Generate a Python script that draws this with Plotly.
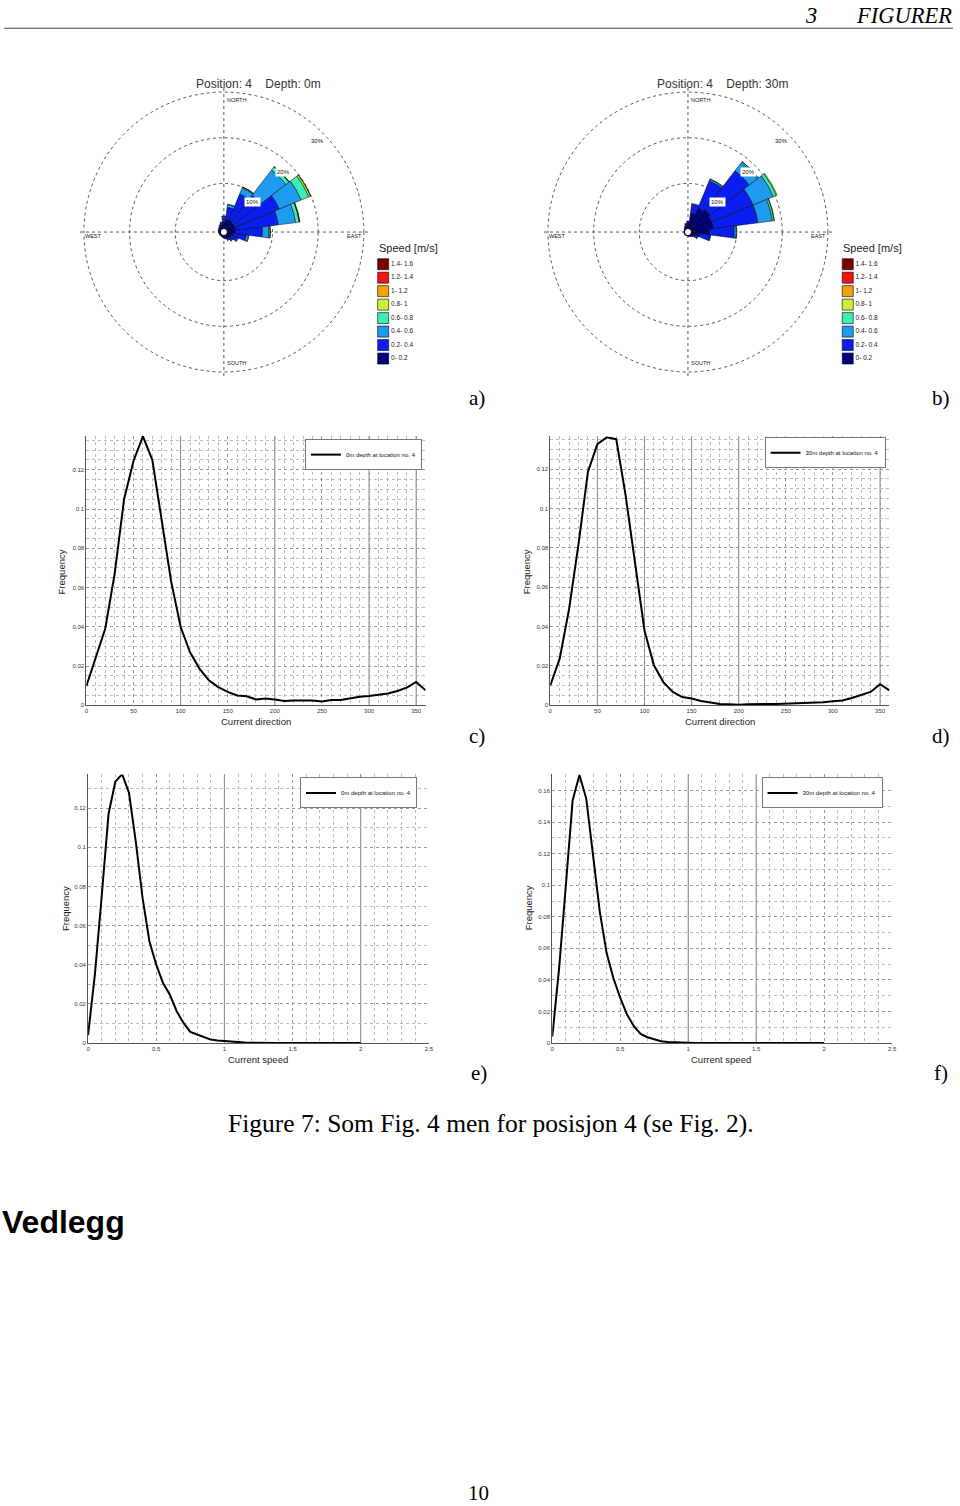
import plotly.graph_objects as go

W, H = 960, 1506
SANS = "Liberation Sans, Arial, sans-serif"
SERIF = "Liberation Serif, Times New Roman, serif"


def fx(px):
    return px / W


def fy(py):
    return 1 - py / H


# ---------------- data ----------------
rose_directions = [0, 15, 30, 45, 60, 75, 90, 105, 120, 135, 150, 165,
                   180, 195, 210, 225, 240, 255, 270, 285, 300, 315, 330, 345]
speed_labels = ["0- 0.2", "0.2- 0.4", "0.4- 0.6", "0.6- 0.8",
                "0.8- 1", "1- 1.2", "1.2- 1.4", "1.4- 1.6"]
speed_colors = ["#00007f", "#0a1ef0", "#1e9bef", "#3cefb4",
                "#c8f03c", "#f5a00f", "#f01414", "#7f0000"]

# Rose a) Position 4, depth 0 m  (percent per direction sector, per speed class)
rose_a_s00_02 = [1.5, 2.0, 2.2, 2.0, 2.0, 2.0, 1.8, 1.5, 1.2, 1.0, 0.8, 0.6,
                 0.5, 0.4, 0.35, 0.35, 0.35, 0.35, 0.4, 0.45, 0.5, 0.6, 0.8, 1.0]
rose_a_s02_04 = [1.0, 2.8, 6.2, 7.5, 10.5, 9.4, 6.0, 2.8, 1.4, 0.8, 0.5, 0.3,
                 0.2, 0.15, 0.1, 0.1, 0.1, 0.1, 0.1, 0.15, 0.2, 0.25, 0.3, 0.5]
rose_a_s04_06 = [0.3, 0.6, 1.4, 7.0, 5.2, 3.8, 1.4, 0.5, 0.2, 0.1, 0.05, 0,
                 0, 0, 0, 0, 0, 0, 0, 0, 0, 0, 0.05, 0.1]
rose_a_s06_08 = [0.05, 0.1, 0.2, 0.8, 1.8, 0.8, 0.3, 0.1, 0, 0, 0, 0,
                 0, 0, 0, 0, 0, 0, 0, 0, 0, 0, 0, 0]
rose_a_s08_10 = [0, 0, 0.02, 0.1, 0.4, 0.1, 0.02, 0, 0, 0, 0, 0,
                 0, 0, 0, 0, 0, 0, 0, 0, 0, 0, 0, 0]
rose_a_s10_12 = [0, 0, 0, 0.02, 0.05, 0.02, 0, 0, 0, 0, 0, 0,
                 0, 0, 0, 0, 0, 0, 0, 0, 0, 0, 0, 0]
rose_a_s12_14 = [0] * 24
rose_a_s14_16 = [0] * 24

# Rose b) Position 4, depth 30 m
rose_b_s00_02 = [1.0, 3.5, 5.0, 5.5, 5.0, 5.0, 4.0, 2.0, 1.0, 0.5, 0.3, 0.2,
                 0.15, 0.15, 0.15, 0.15, 0.15, 0.15, 0.15, 0.15, 0.15, 0.3, 0.5, 0.8]
rose_b_s02_04 = [0.6, 2.0, 6.5, 10.8, 9.8, 9.8, 5.5, 2.3, 0.8, 0.3, 0.2, 0.1,
                 0.08, 0.08, 0.08, 0.08, 0.08, 0.08, 0.08, 0.08, 0.08, 0.15, 0.3, 0.5]
rose_b_s04_06 = [0.05, 0.15, 0.4, 2.2, 4.8, 3.2, 0.45, 0.1, 0, 0, 0, 0,
                 0, 0, 0, 0, 0, 0, 0, 0, 0, 0, 0, 0]
rose_b_s06_08 = [0, 0, 0.05, 0.3, 0.7, 0.4, 0.1, 0, 0, 0, 0, 0,
                 0, 0, 0, 0, 0, 0, 0, 0, 0, 0, 0, 0]
rose_b_s08_10 = [0, 0, 0, 0.05, 0.2, 0.05, 0, 0, 0, 0, 0, 0,
                 0, 0, 0, 0, 0, 0, 0, 0, 0, 0, 0, 0]
rose_b_s10_12 = [0] * 24
rose_b_s12_14 = [0] * 24
rose_b_s14_16 = [0] * 24

# Direction distributions (c, d)
dir_x = [0, 10, 20, 30, 40, 50, 60, 70, 80, 90, 100, 110, 120, 130, 140, 150,
         160, 170, 180, 190, 200, 210, 220, 230, 240, 250, 260, 270, 280, 290,
         300, 310, 320, 330, 340, 350, 360]
freq_dir_0m = [0.0098, 0.024, 0.039, 0.067, 0.105, 0.1245, 0.137, 0.125, 0.095,
               0.063, 0.040, 0.027, 0.0187, 0.0127, 0.0093, 0.0068, 0.005, 0.0046,
               0.003, 0.0034, 0.0029, 0.0022, 0.0024, 0.0025, 0.0025, 0.002,
               0.0027, 0.0027, 0.0034, 0.0044, 0.0047, 0.0053, 0.006, 0.0073,
               0.009, 0.0119, 0.0076]
freq_dir_30m = [0.0101, 0.0237, 0.049, 0.082, 0.1187, 0.1327, 0.1362, 0.1352,
                0.1065, 0.071, 0.038, 0.0203, 0.0118, 0.0068, 0.0042, 0.0034,
                0.0022, 0.0014, 0.0007, 0.0005, 0.0003, 0.0005, 0.0007, 0.0007,
                0.0007, 0.0008, 0.001, 0.001, 0.0012, 0.0015, 0.002, 0.0024,
                0.0037, 0.0051, 0.0068, 0.0107, 0.0076]

# Speed distributions (e, f)
speed_x = [0, 0.05, 0.1, 0.15, 0.2, 0.25, 0.3, 0.35, 0.4, 0.45, 0.5, 0.55, 0.6,
           0.65, 0.7, 0.75, 0.8, 0.85, 0.9, 0.95, 1.0, 1.05, 1.1, 1.15, 1.2,
           1.25, 1.3, 1.35, 1.4, 1.45, 1.5, 1.55, 1.6, 1.65, 1.7, 1.75, 1.8,
           1.85, 1.9, 1.95, 2.0]
freq_speed_0m = [0.004, 0.035, 0.075, 0.117, 0.1336, 0.1374, 0.128, 0.103, 0.074,
                 0.052, 0.040, 0.0306, 0.0247, 0.0162, 0.0102, 0.0056, 0.0043,
                 0.0029, 0.0017, 0.0012, 0.0009, 0.0005, 0.0003, 0.0002, 0.0001,
                 0, 0, 0, 0, 0, 0, 0, 0, 0, 0, 0, 0, 0, 0, 0, 0]
freq_speed_30m = [0.004, 0.047, 0.100, 0.154, 0.170, 0.155, 0.119, 0.083, 0.057,
                  0.041, 0.0285, 0.018, 0.0106, 0.0057, 0.0036, 0.0021, 0.0011,
                  0.0006, 0.0003, 0.0002, 0.0001, 0, 0, 0, 0, 0, 0, 0, 0, 0, 0,
                  0, 0, 0, 0, 0, 0, 0, 0, 0, 0]

# solid (rendering-artefact) grid lines seen in the scanned panels
solid_grid_c = [100, 200, 300, 350]
solid_grid_d = [50, 100, 150, 200, 350]
solid_grid_e = [1, 2]
solid_grid_f = [1, 1.5]

# ---------------- figure ----------------
fig = go.Figure()

rose_a = [rose_a_s00_02, rose_a_s02_04, rose_a_s04_06, rose_a_s06_08,
          rose_a_s08_10, rose_a_s10_12, rose_a_s12_14, rose_a_s14_16]
rose_b = [rose_b_s00_02, rose_b_s02_04, rose_b_s04_06, rose_b_s06_08,
          rose_b_s08_10, rose_b_s10_12, rose_b_s12_14, rose_b_s14_16]

for pid, bins in (("polar", rose_a), ("polar2", rose_b)):
    for lab, col, rv in zip(speed_labels, speed_colors, bins):
        fig.add_trace(go.Barpolar(
            r=rv, theta=rose_directions, width=[15] * len(rose_directions),
            name=lab, subplot=pid, showlegend=False,
            marker=dict(color=col, line=dict(color="black", width=0.5)),
        ))

# speed legends (as small scatter keys)
for xa, ya in (("x5", "y5"), ("x6", "y6")):
    fig.add_trace(go.Scatter(
        x=[0] * len(speed_labels), y=list(range(len(speed_labels))),
        mode="markers+text", text=speed_labels, textposition="middle right",
        textfont=dict(size=6.5, family=SANS, color="#222"),
        marker=dict(symbol="square", size=11, color=speed_colors,
                    line=dict(color="black", width=0.6)),
        xaxis=xa, yaxis=ya, showlegend=False, hoverinfo="skip", cliponaxis=False,
    ))

line_specs = [
    ("x", "y", "legend", dir_x, freq_dir_0m, "0m depth at location no. 4"),
    ("x2", "y2", "legend2", dir_x, freq_dir_30m, "30m depth at location no. 4"),
    ("x3", "y3", "legend3", speed_x, freq_speed_0m, "0m depth at location no. 4"),
    ("x4", "y4", "legend4", speed_x, freq_speed_30m, "30m depth at location no. 4"),
]
for xa, ya, lg, xs, ys, nm in line_specs:
    fig.add_trace(go.Scatter(x=xs, y=ys, mode="lines", name=nm,
                             line=dict(color="black", width=2),
                             xaxis=xa, yaxis=ya, legend=lg))

R_POLAR = 145.6
HOLE = 0.0206


def polar_layout(cx, cy):
    R = R_POLAR
    return dict(
        domain=dict(x=[fx(cx - R), fx(cx + R)], y=[fy(cy + R), fy(cy - R)]),
        hole=HOLE, bgcolor="white", barmode="stack",
        radialaxis=dict(range=[0, 31], tickvals=[10, 20, 30], showticklabels=False,
                        ticks="", showline=False, gridcolor="#555", griddash="dot",
                        gridwidth=1),
        angularaxis=dict(rotation=90, direction="clockwise", tickvals=[0, 90, 180, 270],
                         showticklabels=False, ticks="", showline=False,
                         gridcolor="#555", griddash="dot", gridwidth=1),
    )


def xax(x0, x1, rng, dt, mdt, anchor):
    return dict(domain=[fx(x0), fx(x1)], range=rng, dtick=dt, tick0=0, anchor=anchor,
                showgrid=True, gridcolor="#999", griddash="dot", gridwidth=1,
                minor=dict(dtick=mdt, tick0=0, showgrid=True, gridcolor="#bbb",
                           griddash="dot", gridwidth=1),
                showline=True, linecolor="#555", linewidth=1, zeroline=False,
                ticks="", tickfont=dict(size=6, family=SANS, color="#333"))


def yax(y0, y1, rng, dt, mdt, anchor):
    return dict(domain=[fy(y1), fy(y0)], range=rng, dtick=dt, tick0=0, anchor=anchor,
                showgrid=True, gridcolor="#999", griddash="dot", gridwidth=1,
                minor=dict(dtick=mdt, tick0=0, showgrid=True, gridcolor="#bbb",
                           griddash="dot", gridwidth=1),
                showline=True, linecolor="#555", linewidth=1, zeroline=False,
                ticks="", tickfont=dict(size=6, family=SANS, color="#333"))


def line_legend(right_px, top_px):
    return dict(x=fx(right_px), y=fy(top_px), xanchor="right", yanchor="top",
                bgcolor="white", bordercolor="#777", borderwidth=1,
                font=dict(size=6, family=SANS, color="#111"), itemwidth=30)


hidden = dict(visible=False, showgrid=False, zeroline=False)

fig.update_layout(
    width=W, height=H, margin=dict(l=0, r=0, t=0, b=0),
    paper_bgcolor="white", plot_bgcolor="white", showlegend=True,
    polar=polar_layout(223.5, 232.5),
    polar2=polar_layout(691.0, 232.5),
    xaxis=xax(85, 426.7, [0, 360], 50, 10, "y"),
    yaxis=yax(436.7, 706.7, [0, 0.1373], 0.02, 0.005, "x"),
    xaxis2=xax(552.3, 894, [0, 360], 50, 10, "y2"),
    yaxis2=yax(437.3, 706.7, [0, 0.1366], 0.02, 0.005, "x2"),
    xaxis3=xax(86.7, 430, [0, 2.5], 0.5, 0.1, "y3"),
    yaxis3=yax(776, 1045, [0, 0.1373], 0.02, 0.01, "x3"),
    xaxis4=xax(554.3, 896.7, [0, 2.5], 0.5, 0.1, "y4"),
    yaxis4=yax(776, 1045, [0, 0.1703], 0.02, 0.01, "x4"),
    xaxis5=dict(hidden, domain=[fx(378), fx(440)], range=[-0.5, 4.7], anchor="y5"),
    yaxis5=dict(hidden, domain=[fy(366), fy(258)], range=[-0.5, 7.5], anchor="x5"),
    xaxis6=dict(hidden, domain=[fx(846), fx(908)], range=[-0.5, 4.7], anchor="y6"),
    yaxis6=dict(hidden, domain=[fy(366), fy(258)], range=[-0.5, 7.5], anchor="x6"),
    legend=line_legend(423, 440),
    legend2=line_legend(890, 438),
    legend3=line_legend(418, 779),
    legend4=line_legend(887, 779),
)

shapes = [dict(type="line", xref="paper", yref="paper", x0=fx(2), x1=fx(958),
               y0=fy(28.3), y1=fy(28.3), line=dict(color="#444", width=1))]
for xr, yr, xs in (("x", "y", solid_grid_c), ("x2", "y2", solid_grid_d),
                   ("x3", "y3", solid_grid_e), ("x4", "y4", solid_grid_f)):
    for xv in xs:
        shapes.append(dict(type="line", xref=xr, yref=yr + " domain", x0=xv, x1=xv,
                           y0=0, y1=1, line=dict(color="#808080", width=1), layer="below"))
fig.update_layout(shapes=shapes)

ann = []


def text(x, y, s, size, family=SANS, color="#000", xa="center", ya="middle", **kw):
    ann.append(dict(x=fx(x), y=fy(y), xref="paper", yref="paper", text=s,
                    showarrow=False, xanchor=xa, yanchor=ya,
                    font=dict(size=size, family=family, color=color), **kw))


NB = "\u00a0"
# header
text(815, 15.2, "<i>3</i>", 22.5, SERIF)
text(959, 15.2, "<i>FIGURER</i>", 22.5, SERIF, xa="right")

# rose decorations
for dx, depth in ((0, "0m"), (467.5, "30m")):
    text(258 + dx, 84, "Position: 4" + NB * 4 + "Depth: " + depth, 12, SANS, "#333")
    text(224.5 + dx, 100.5, "NORTH", 5.5, SANS, "#222", xa="left")
    text(224.5 + dx, 364, "SOUTH", 5.5, SANS, "#222", xa="left")
    text(82 + dx, 236, "WEST", 5.5, SANS, "#222", xa="left")
    text(365 + dx, 236, "EAST", 5.5, SANS, "#222", xa="right")
    text(252.8 + dx, 202.3, "10%", 6, SANS, "#111", bgcolor="white")
    text(284 + dx, 172, "20%", 6, SANS, "#111", bgcolor="white")
    text(318 + dx, 141, "30%", 6, SANS, "#111", bgcolor="white")
    text(378 + dx, 248, "Speed [m/s]", 11, SANS, "#222", xa="left")

# axis titles of line panels
text(255.5, 723.3, "Current direction", 9.5, SANS, "#222")
text(723, 723.3, "Current direction", 9.5, SANS, "#222")
text(258, 1062, "Current speed", 9.5, SANS, "#222")
text(724, 1062, "Current speed", 9.5, SANS, "#222")
text(60, 573, "Frequency", 9.5, SANS, "#222", textangle=-90)
text(528.3, 573, "Frequency", 9.5, SANS, "#222", textangle=-90)
text(63.3, 910, "Frequency", 9.5, SANS, "#222", textangle=-90)
text(530, 910, "Frequency", 9.5, SANS, "#222", textangle=-90)

# panel letters
for lx, ly, s in ((478, 399, "a)"), (946, 399, "b)"), (478, 737, "c)"),
                  (946, 737, "d)"), (480, 1075, "e)"), (946, 1075, "f)")):
    text(lx, ly, s, 21, SERIF)

text(492.5, 1126, "Figure 7: Som Fig. 4 men for posisjon 4 (se Fig. 2).", 25.5, SERIF)
text(-2, 1224, "<b>Vedlegg</b>", 32, SANS, xa="left")
text(480, 1496, "10", 21, SERIF)

fig.update_layout(annotations=ann)

fig.write_html("out.html")
